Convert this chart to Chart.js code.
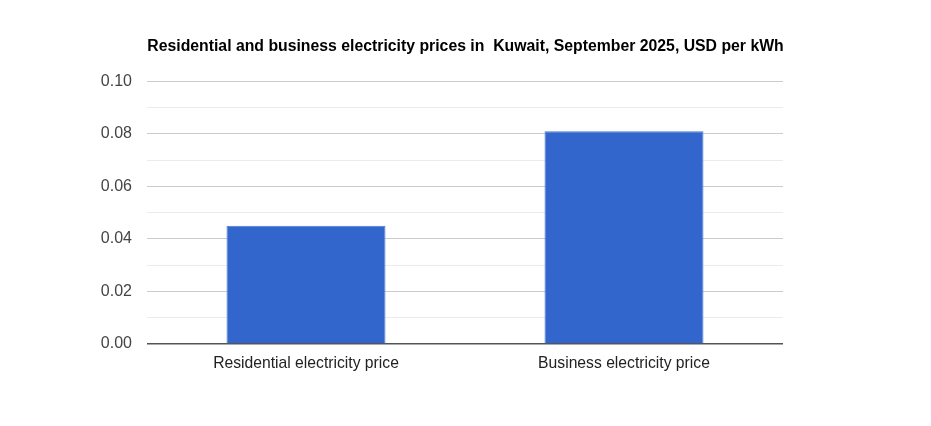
<!DOCTYPE html>
<html>
<head>
<meta charset="utf-8">
<script src="https://cdn.jsdelivr.net/npm/chart.js@4.4.0/dist/chart.umd.min.js"></script>
<style>
    html, body { margin: 0; padding: 0; background: #fff; }
    #wrap { width: 931px; height: 426px; }
</style>
</head>
<body>
<div id="wrap"><canvas id="priceChart"></canvas></div>
<script>
// Chart data
var categories = ['Residential electricity price', 'Business electricity price'];
var prices = [0.045, 0.081];
var yTicks = [0, 0.02, 0.04, 0.06, 0.08, 0.10];
var titleText = 'Residential and business electricity prices in  Kuwait, September 2025, USD per kWh';

var fontFamily = 'Liberation Sans, Arial, sans-serif';

// Gridline colour: zero line dark, labelled lines grey, in-between lines light
function gridColor(ctx) {
    var v = Math.round(ctx.tick.value * 100);
    if (v === 0) return '#555555';
    if (v % 2 === 0) return '#cccccc';
    return '#ebebeb';
}

var ctx = document.getElementById('priceChart').getContext('2d');

var priceChart = new Chart(ctx, {
    type: 'bar',
    data: {
        labels: categories,
        datasets: [{
            data: prices,
            backgroundColor: '#3366cc',
            borderColor: '#4d7bd6',
            borderWidth: 1,
            barPercentage: 0.5,
            categoryPercentage: 1.0
        }]
    },
    options: {
        responsive: true,
        maintainAspectRatio: false,
        animation: false,
        layout: {
            padding: { left: 74, right: 74, top: 0, bottom: 0 }
        },
        plugins: {
            legend: { display: false },
            tooltip: { enabled: false },
            title: {
                display: true,
                text: titleText,
                color: '#000000',
                font: { family: fontFamily, size: 15.8, weight: 'bold' },
                padding: { top: 37.5, bottom: 25 }
            }
        },
        scales: {
            x: {
                grid: { display: false, drawTicks: false },
                border: { display: false },
                ticks: {
                    color: '#222222',
                    padding: 10,
                    font: { family: fontFamily, size: 15.7 }
                },
                afterFit: function(scale) { scale.height = 82; }
            },
            y: {
                min: 0,
                max: 0.1,
                grid: { color: gridColor, lineWidth: function(c) { return c.tick.value === 0 ? 1.5 : 1; }, drawTicks: false },
                border: { display: false },
                ticks: {
                    stepSize: 0.01,
                    color: '#444444',
                    padding: 15,
                    font: { family: fontFamily, size: 16 },
                    callback: function(value) {
                        for (var i = 0; i < yTicks.length; i++) {
                            if (Math.abs(yTicks[i] - value) < 1e-6) return value.toFixed(2);
                        }
                        return '';
                    }
                },
                afterFit: function(scale) { scale.width = 73; }
            },
            // empty right axis, only reserves space so the plot ends where the reference does
            yRight: {
                position: 'right',
                display: true,
                grid: { display: false, drawTicks: false },
                border: { display: false },
                ticks: { display: false },
                afterFit: function(scale) { scale.width = 74; }
            }
        }
    }
});
</script>
</body>
</html>
